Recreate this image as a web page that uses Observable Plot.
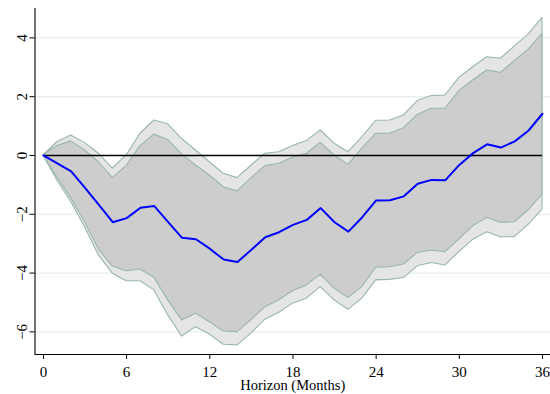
<!DOCTYPE html>
<html>
<head>
<meta charset="utf-8">
<script src="https://cdn.jsdelivr.net/npm/d3@7"></script>
<script src="https://cdn.jsdelivr.net/npm/@observablehq/plot@0.6"></script>
<style>
  html, body { margin: 0; padding: 0; background: #fff; }
</style>
</head>
<body>
<div id="chart"></div>
<script>
// Impulse response over a 36-month horizon with two confidence bands
const months = d3.range(0, 37);

const irf = [0, -0.27, -0.54, -1.1, -1.68, -2.27, -2.13, -1.78, -1.72, -2.27,
  -2.8, -2.85, -3.17, -3.54, -3.62, -3.21, -2.78, -2.61, -2.36, -2.19,
  -1.79, -2.27, -2.59, -2.1, -1.53, -1.52, -1.39, -0.96, -0.83, -0.84,
  -0.32, 0.08, 0.38, 0.27, 0.48, 0.85, 1.42];

// inner band
const hiInner = [0, 0.32, 0.48, 0.17, -0.23, -0.76, -0.36, 0.32, 0.71, 0.53,
  0.03, -0.34, -0.68, -1.08, -1.22, -0.78, -0.36, -0.28, -0.08, 0.06,
  0.43, 0.0, -0.32, 0.23, 0.74, 0.74, 0.93, 1.38, 1.59, 1.59,
  2.19, 2.55, 2.89, 2.81, 3.21, 3.6, 4.14];
const loInner = [0, -0.75, -1.45, -2.27, -3.2, -3.78, -3.94, -3.88, -4.16, -4.93,
  -5.61, -5.38, -5.67, -5.99, -6.01, -5.61, -5.16, -4.93, -4.62, -4.42,
  -4.06, -4.53, -4.85, -4.48, -3.82, -3.8, -3.71, -3.32, -3.23, -3.29,
  -2.86, -2.41, -2.13, -2.29, -2.27, -1.87, -1.33];

// outer band
const hiOuter = [0, 0.45, 0.68, 0.42, 0.06, -0.45, 0.0, 0.74, 1.19, 1.06,
  0.56, 0.17, -0.23, -0.62, -0.77, -0.35, 0.06, 0.11, 0.32, 0.49,
  0.85, 0.4, 0.11, 0.62, 1.18, 1.19, 1.36, 1.85, 2.02, 2.04,
  2.64, 3.0, 3.34, 3.29, 3.71, 4.11, 4.68];
const loOuter = [0, -0.85, -1.58, -2.44, -3.4, -4.02, -4.28, -4.28, -4.59, -5.44,
  -6.16, -5.84, -6.09, -6.44, -6.46, -6.06, -5.59, -5.36, -5.04, -4.87,
  -4.48, -4.93, -5.25, -4.87, -4.25, -4.23, -4.17, -3.77, -3.66, -3.74,
  -3.29, -2.87, -2.61, -2.78, -2.78, -2.36, -1.84];

const xTicks = [0, 6, 12, 18, 24, 30, 36];
const yTicks = [-6, -4, -2, 0, 2, 4];
const xTitle = "Horizon (Months)";

const xDomain = [-0.61, 36.58];
const yDomain = [-6.77, 5.0];

const rows = months.map((m, i) => ({
  m, irf: irf[i],
  hiInner: hiInner[i], loInner: loInner[i],
  hiOuter: hiOuter[i], loOuter: loOuter[i]
}));

const bandEdge = "#98b6ac";

const chart = Plot.plot({
  width: 550,
  height: 394,
  marginLeft: 34.5,
  marginRight: 0,
  marginTop: 8,
  marginBottom: 40,
  style: { fontFamily: "'Liberation Serif', 'Times New Roman', serif", fontSize: "15px", background: "#fff" },
  x: { domain: xDomain },
  y: { domain: yDomain },
  marks: [
    Plot.gridY(yTicks.filter(v => v !== 0), { stroke: "#e4eef1", strokeOpacity: 1, strokeWidth: 1.3 }),
    Plot.areaY(rows, { x: "m", y1: "loOuter", y2: "hiOuter", fill: "#e5e5e5", stroke: bandEdge, strokeWidth: 1.1 }),
    Plot.areaY(rows, { x: "m", y1: "loInner", y2: "hiInner", fill: "#cdcdcd", stroke: bandEdge, strokeWidth: 1.1 }),
    Plot.ruleY([0], { x1: 0, x2: 36, stroke: "#000", strokeWidth: 1.3 }),
    Plot.lineY(rows, { x: "m", y: "irf", stroke: "#0000ff", strokeWidth: 2 }),
    Plot.ruleY([yDomain[0]], { stroke: "#000", strokeWidth: 1.1 }),
    Plot.ruleX([xDomain[0]], { stroke: "#000", strokeWidth: 1.1 }),
    Plot.axisX({ ticks: xTicks, tickSize: 5, tickPadding: 6.5, label: null, stroke: "#000", fill: "#000", fontSize: 15 }),
    Plot.axisY({ ticks: yTicks, tickSize: 5, tickPadding: 3, tickRotate: -90, label: null, stroke: "#000", fill: "#000", fontSize: 15 }),
    Plot.text([xTitle], { text: d => d, frameAnchor: "bottom", dy: 31.2, lineAnchor: "middle", fontSize: 14.5, fill: "#000" })
  ]
});

document.getElementById("chart").appendChild(chart);
</script>
</body>
</html>
